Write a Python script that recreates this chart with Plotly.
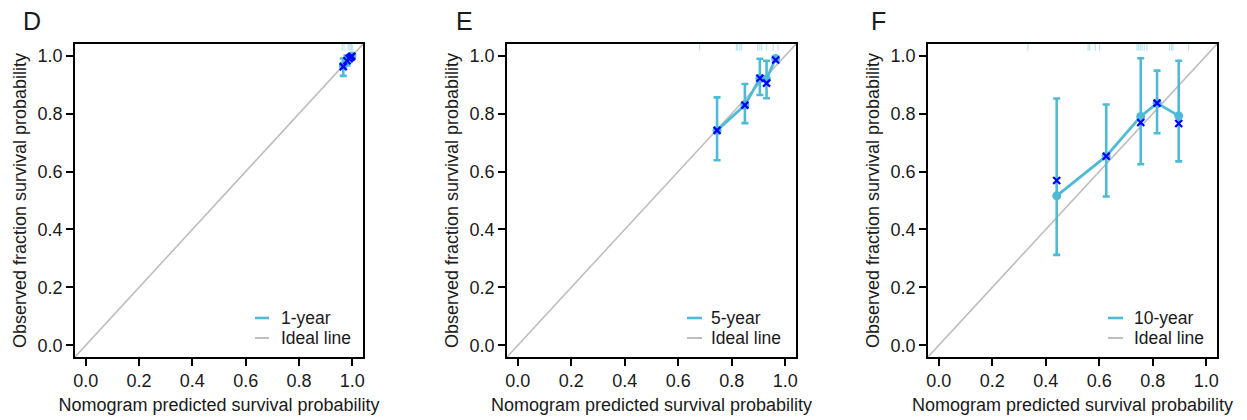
import numpy as np
import plotly.graph_objects as go

# ---------------- data ----------------
panel_letters = ["D", "E", "F"]
series_names = ["1-year", "5-year", "10-year"]
ideal_name = "Ideal line"
tick_vals = [0.0, 0.2, 0.4, 0.6, 0.8, 1.0]
ideal_line = [-0.05, 1.05]

# 1-year
pred_1y = [0.966, 0.980, 0.988, 0.994, 0.998]
obs_1y = [0.966, 0.984, 0.991, 0.995, 0.999]
corr_1y = [0.962, 0.982, 0.990, 0.994, 0.998]
low_1y = [0.930, 0.966, 0.978, 0.986, 0.992]
up_1y = [0.990, 1.000, 1.000, 1.000, 1.000]
rug_1y = [0.962, 0.969, 0.985, 0.991, 0.996, 1.0]

# 5-year
pred_5y = [0.745, 0.849, 0.905, 0.930, 0.964]
obs_5y = [0.742, 0.829, 0.922, 0.919, 0.990]
corr_5y = [0.742, 0.829, 0.922, 0.905, 0.985]
low_5y = [0.639, 0.767, 0.864, 0.853, 0.990]
up_5y = [0.856, 0.902, 0.989, 0.982, 0.990]
rug_5y = [0.680, 0.817, 0.822, 0.830, 0.837, 0.897, 0.905, 0.912, 0.930, 0.955, 0.973]

# 10-year
pred_10y = [0.441, 0.626, 0.755, 0.816, 0.897]
obs_10y = [0.516, 0.653, 0.790, 0.836, 0.792]
corr_10y = [0.569, 0.653, 0.769, 0.836, 0.766]
low_10y = [0.3125, 0.514, 0.625, 0.732, 0.635]
up_10y = [0.852, 0.831, 0.991, 0.948, 0.982]
rug_10y = [0.333, 0.558, 0.564, 0.585, 0.601, 0.741, 0.747, 0.753, 0.760,
           0.768, 0.778, 0.863, 0.870, 0.876, 0.934]

panels = [
    (pred_1y, obs_1y, corr_1y, low_1y, up_1y, rug_1y),
    (pred_5y, obs_5y, corr_5y, low_5y, up_5y, rug_5y),
    (pred_10y, obs_10y, corr_10y, low_10y, up_10y, rug_10y),
]

# ---------------- style ----------------
W, H = 1247, 420
CYAN = "#4DBBD5"
RUG = "rgba(77,187,213,0.4)"
BLUE = "#0000FF"
GRAY = "#BEBEBE"
TXT = "#1a1a1a"
FONT = "Liberation Sans, Arial, Helvetica, sans-serif"

x_dom_px = [(75, 363), (507, 796), (928, 1217)]
y_dom_px = (44, 357)  # top, bottom
letter_x_px = [21, 454, 869]
leg_px = [(255, 269, 279), (687, 702, 709), (1108, 1123, 1132)]
leg_rows_px = (318, 338)

fig = go.Figure()
shapes = []
annotations = []

for i, (pred, obs, corr, low, up, rug) in enumerate(panels):
    n = "" if i == 0 else str(i + 1)
    xa, ya = "x" + n, "y" + n
    obs_a = np.array(obs)
    err_plus = np.array(up) - obs_a
    err_minus = obs_a - np.array(low)

    fig.add_trace(go.Scatter(
        x=ideal_line, y=ideal_line, mode="lines",
        line=dict(color=GRAY, width=1.6), xaxis=xa, yaxis=ya,
        showlegend=False, hoverinfo="skip"))
    fig.add_trace(go.Scatter(
        x=rug, y=[1.029] * len(rug), mode="markers",
        marker=dict(symbol="line-ns", size=5,
                    line=dict(color=RUG, width=1.1)),
        xaxis=xa, yaxis=ya, showlegend=False, hoverinfo="skip"))
    fig.add_trace(go.Scatter(
        x=pred, y=obs, mode="lines+markers",
        line=dict(color=CYAN, width=2.8),
        marker=dict(symbol="circle", size=9, color=CYAN),
        error_y=dict(type="data", symmetric=False,
                     array=err_plus, arrayminus=err_minus,
                     color=CYAN, thickness=2.6, width=3.5),
        xaxis=xa, yaxis=ya, showlegend=False, name=series_names[i]))
    fig.add_trace(go.Scatter(
        x=pred, y=corr, mode="markers",
        marker=dict(symbol="x-thin", size=7,
                    line=dict(color=BLUE, width=2.2)),
        xaxis=xa, yaxis=ya, showlegend=False))

    x0, x1 = x_dom_px[i]
    axis_common = dict(
        range=[-0.04, 1.04], tickvals=tick_vals, tickformat=".1f",
        showline=True, mirror=True, linecolor="black", linewidth=1.6,
        ticks="outside", ticklen=7, tickwidth=1.5, tickcolor="black",
        showgrid=False, zeroline=False, automargin=False,
        tickfont=dict(family=FONT, size=18, color=TXT),
    )
    fig.update_layout({
        "xaxis" + n: dict(
            axis_common, domain=[x0 / W, x1 / W], anchor=ya,
            title=dict(text="Nomogram predicted survival probability",
                       font=dict(family=FONT, size=18, color=TXT),
                       standoff=8)),
        "yaxis" + n: dict(
            axis_common,
            domain=[1 - y_dom_px[1] / H, 1 - y_dom_px[0] / H], anchor=xa,
            title=dict(text="Observed fraction survival probability",
                       font=dict(family=FONT, size=18, color=TXT),
                       standoff=6)),
    })

    # panel letter
    annotations.append(dict(
        text=panel_letters[i], xref="paper", yref="paper",
        x=letter_x_px[i] / W, y=1 - 20.5 / H, xanchor="left", yanchor="middle",
        showarrow=False, font=dict(family=FONT, size=25, color=TXT)))

    # legend (drawn in axis-domain coordinates)
    lx0, lx1, tx = leg_px[i]
    wpx = x1 - x0
    hpx = y_dom_px[1] - y_dom_px[0]
    for row, (label, col, lw) in enumerate([(series_names[i], CYAN, 2.6),
                                            (ideal_name, GRAY, 2.0)]):
        yy = (y_dom_px[1] - leg_rows_px[row]) / hpx
        shapes.append(dict(type="line", xref=xa + " domain", yref=ya + " domain",
                           x0=(lx0 - x0) / wpx, x1=(lx1 - x0) / wpx, y0=yy, y1=yy,
                           line=dict(color=col, width=lw)))
        annotations.append(dict(
            text=label, xref=xa + " domain", yref=ya + " domain",
            x=(tx - x0) / wpx, y=yy, xanchor="left", yanchor="middle",
            showarrow=False, font=dict(family=FONT, size=17.5, color=TXT)))

fig.update_layout(
    width=W, height=H, autosize=False,
    margin=dict(l=0, r=0, t=0, b=0),
    paper_bgcolor="white", plot_bgcolor="white",
    showlegend=False, shapes=shapes, annotations=annotations,
)

fig.write_html(
    "out.html",
    config={"displayModeBar": False},
    post_script="document.body.style.margin='0px';"
                "document.documentElement.style.overflow='hidden';",
)
